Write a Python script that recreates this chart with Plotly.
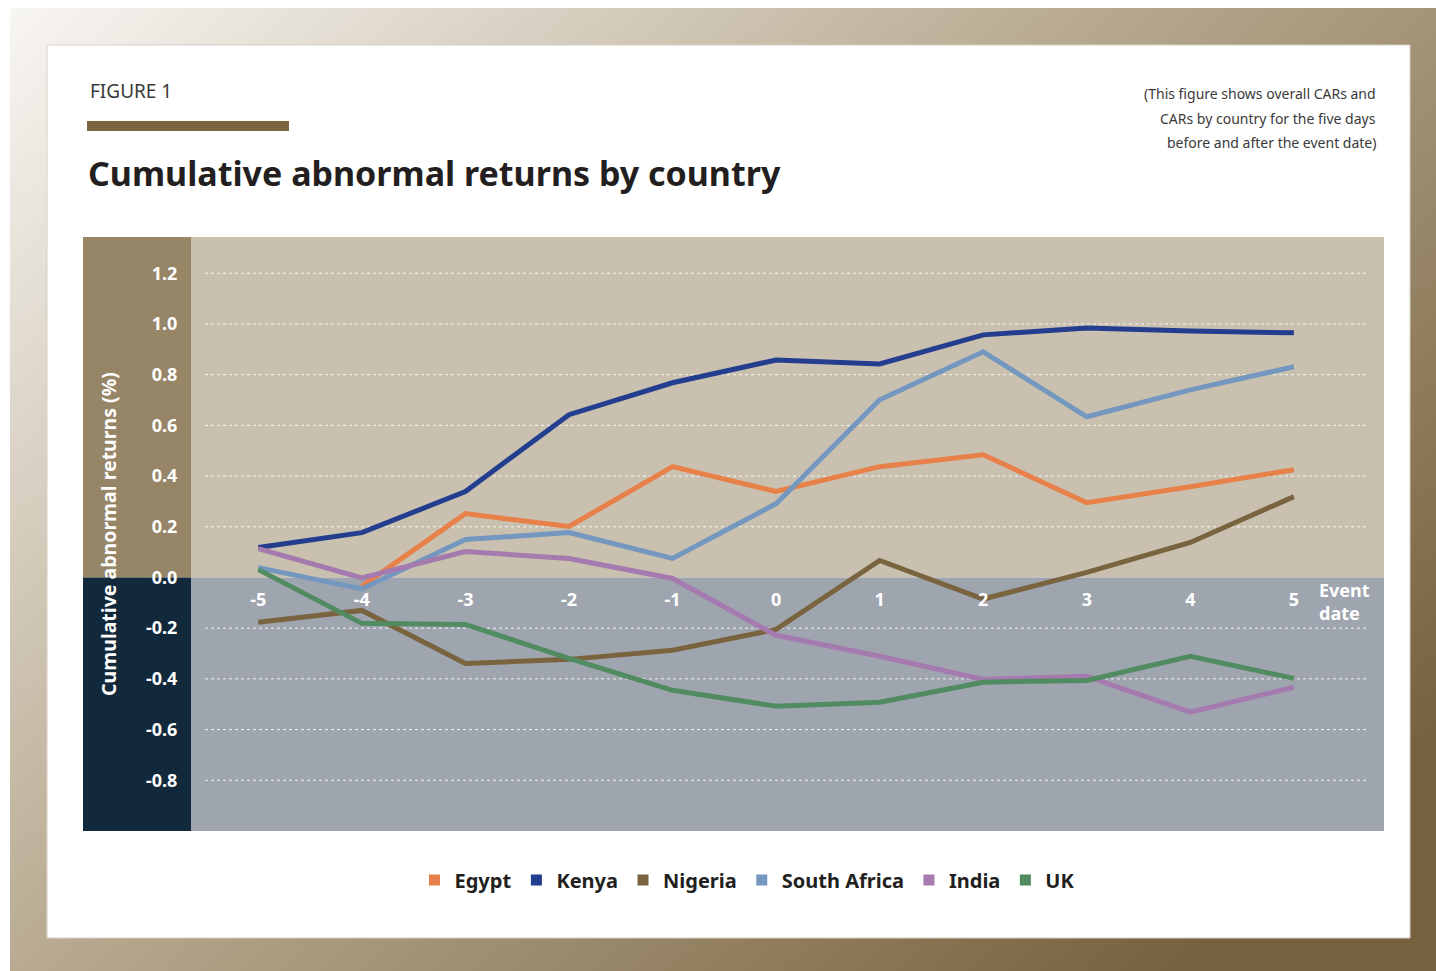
import base64
import plotly.graph_objects as go

W, H = 1436, 971

# ---------------- data ----------------
days = [-5, -4, -3, -2, -1, 0, 1, 2, 3, 4, 5]
egypt = [None, -0.035, 0.252, 0.201, 0.437, 0.339, 0.437, 0.484, 0.295, 0.358, 0.425]
kenya = [0.118, 0.177, 0.339, 0.642, 0.768, 0.858, 0.842, 0.957, 0.984, 0.972, 0.965]
nigeria = [-0.177, -0.130, -0.339, -0.323, -0.287, -0.205, 0.067, -0.085, 0.020, 0.138, 0.319]
south_africa = [0.039, -0.045, 0.150, 0.177, 0.075, 0.291, 0.701, 0.890, 0.634, 0.740, 0.831]
india = [0.114, -0.002, 0.102, 0.075, -0.004, -0.228, -0.311, -0.402, -0.390, -0.531, -0.433]
uk = [0.031, -0.181, -0.185, -0.319, -0.445, -0.508, -0.492, -0.413, -0.406, -0.311, -0.398]

series_names = ["Egypt", "Kenya", "Nigeria", "South Africa", "India", "UK"]
series_values = [egypt, kenya, nigeria, south_africa, india, uk]
series_colors = ["#e8804a", "#233d8f", "#7a6440", "#7497c0", "#a57aaf", "#518b62"]

y_tickvals = [-0.8, -0.6, -0.4, -0.2, 0.0, 0.2, 0.4, 0.6, 0.8, 1.0, 1.2]
y_ticktext = ["-0.8", "-0.6", "-0.4", "-0.2", "0.0", "0.2", "0.4", "0.6", "0.8", "1.0", "1.2"]
x_ticktext = ["-5", "-4", "-3", "-2", "-1", "0", "1", "2", "3", "4", "5"]

title_text = "Cumulative abnormal returns by country"
figure_label = "FIGURE 1"
note_lines = ["(This figure shows overall CARs and",
              "CARs by country for the five days",
              "before and after the event date)"]
y_title = "Cumulative abnormal returns (%)"

# ---------------- layout helpers ----------------
def px(x):
    return x / W

def py(y):
    return 1 - y / H

Y_MIN, Y_MAX = -1.0, 1.343
X_MIN, X_MAX = -5.65, 5.87
PLOT_L, PLOT_R, PLOT_T, PLOT_B = 191, 1384, 237, 831
dom_y = [py(PLOT_B), py(PLOT_T)]
dom_x = [px(PLOT_L), px(PLOT_R)]
zero_paper = dom_y[0] + (0 - Y_MIN) / (Y_MAX - Y_MIN) * (dom_y[1] - dom_y[0])

FONT = "Noto Sans"

fig = go.Figure()

for name, vals, col in zip(series_names, series_values, series_colors):
    fig.add_trace(go.Scatter(x=days, y=vals, mode="lines", name=name,
                             line=dict(color=col, width=5), showlegend=False,
                             hoverinfo="x+y+name"))
for name, col in zip(series_names, series_colors):
    fig.add_trace(go.Scatter(x=[None], y=[None], mode="markers", name=name,
                             marker=dict(symbol="square", size=11, color=col),
                             showlegend=True))

# background gradient frame
svg = ('<svg xmlns="http://www.w3.org/2000/svg" width="1426" height="963">'
       '<defs><linearGradient id="g" x1="0" y1="0" x2="1" y2="0.75">'
       '<stop offset="0" stop-color="#f8f6f3"/>'
       '<stop offset="0.5" stop-color="#b6a88e"/>'
       '<stop offset="1" stop-color="#77623f"/>'
       '</linearGradient></defs>'
       '<rect width="1426" height="963" fill="url(#g)"/></svg>')
uri = "data:image/svg+xml;base64," + base64.b64encode(svg.encode()).decode()

images = [dict(source=uri, xref="paper", yref="paper", x=px(10), y=py(8),
               sizex=1426 / W, sizey=963 / H, xanchor="left", yanchor="top",
               sizing="stretch", layer="below")]

shapes = [
    # white card
    dict(type="rect", xref="paper", yref="paper", x0=px(47), x1=px(1410), y0=py(938), y1=py(45),
         fillcolor="white", line=dict(color="#d6cfc4", width=1), layer="below"),
    # figure bar
    dict(type="rect", xref="paper", yref="paper", x0=px(87), x1=px(289), y0=py(131), y1=py(121),
         fillcolor="#7a6541", line=dict(width=0), layer="below"),
    # plot area top (positive) and bottom (negative)
    dict(type="rect", xref="paper", yref="paper", x0=dom_x[0], x1=dom_x[1], y0=zero_paper, y1=dom_y[1],
         fillcolor="#c9c0b0", line=dict(width=0), layer="below"),
    dict(type="rect", xref="paper", yref="paper", x0=dom_x[0], x1=dom_x[1], y0=dom_y[0], y1=zero_paper,
         fillcolor="#9fa5af", line=dict(width=0), layer="below"),
    # left strip
    dict(type="rect", xref="paper", yref="paper", x0=px(83), x1=dom_x[0], y0=zero_paper, y1=dom_y[1],
         fillcolor="#978568", line=dict(width=0), layer="below"),
    dict(type="rect", xref="paper", yref="paper", x0=px(83), x1=dom_x[0], y0=dom_y[0], y1=zero_paper,
         fillcolor="#12293b", line=dict(width=0), layer="below"),
]
for v in y_tickvals:
    if v == 0:
        continue
    shapes.append(dict(type="line", xref="paper", yref="y", x0=px(205), x1=px(1368), y0=v, y1=v,
                       line=dict(color="rgba(255,255,255,0.85)", width=1, dash="dot"), layer="below"))

annotations = [
    dict(text=figure_label, xref="paper", yref="paper", x=px(88), y=py(91), xanchor="left",
         yanchor="middle", showarrow=False, font=dict(family=FONT, size=19, color="#3a3a3a")),
    dict(text="<b>" + title_text + "</b>", xref="paper", yref="paper", x=px(86), y=py(173),
         xanchor="left", yanchor="middle", showarrow=False,
         font=dict(family=FONT, size=34, color="#231f20")),
    dict(text="<b>" + y_title + "</b>", xref="paper", yref="paper", x=px(108), y=py(534),
         xanchor="center", yanchor="middle", textangle=-90, showarrow=False,
         font=dict(family=FONT, size=19.5, color="white")),
    dict(text="<b>Event<br>date</b>", xref="paper", yref="paper", x=px(1317), y=py(601),
         xanchor="left", yanchor="middle", align="left", showarrow=False,
         font=dict(family=FONT, size=18, color="white")),
]
for i, line in enumerate(note_lines):
    annotations.append(dict(text=line, xref="paper", yref="paper", x=px(1378), y=py(94 + 24 * i),
                            xanchor="right", yanchor="middle", showarrow=False,
                            font=dict(family=FONT, size=14, color="#3a3a3a")))

fig.update_layout(
    width=W, height=H,
    margin=dict(l=0, r=0, t=0, b=0),
    paper_bgcolor="white",
    plot_bgcolor="rgba(0,0,0,0)",
    font=dict(family=FONT),
    images=images,
    shapes=shapes,
    annotations=annotations,
    xaxis=dict(domain=dom_x, range=[X_MIN, X_MAX], anchor="free", position=zero_paper,
               tickvals=days, ticktext=["<b>%s</b>" % t for t in x_ticktext],
               tickfont=dict(family=FONT, size=18, color="white"),
               ticks="outside", ticklen=6, tickcolor="rgba(0,0,0,0)",
               showgrid=False, zeroline=False, showline=False, fixedrange=True),
    yaxis=dict(domain=dom_y, range=[Y_MIN, Y_MAX],
               tickvals=y_tickvals, ticktext=["<b>%s</b>" % t for t in y_ticktext],
               tickfont=dict(family=FONT, size=18, color="white"),
               ticks="outside", ticklen=9, tickcolor="rgba(0,0,0,0)",
               showgrid=False, zeroline=False, showline=False, fixedrange=True),
    legend=dict(orientation="h", x=px(747), y=py(880), xanchor="center", yanchor="middle",
                font=dict(family=FONT, size=20, color="#231f20", weight="bold"),
                bgcolor="rgba(0,0,0,0)", itemclick=False, itemdoubleclick=False),
    showlegend=True,
)

fig.write_html("out.html")
